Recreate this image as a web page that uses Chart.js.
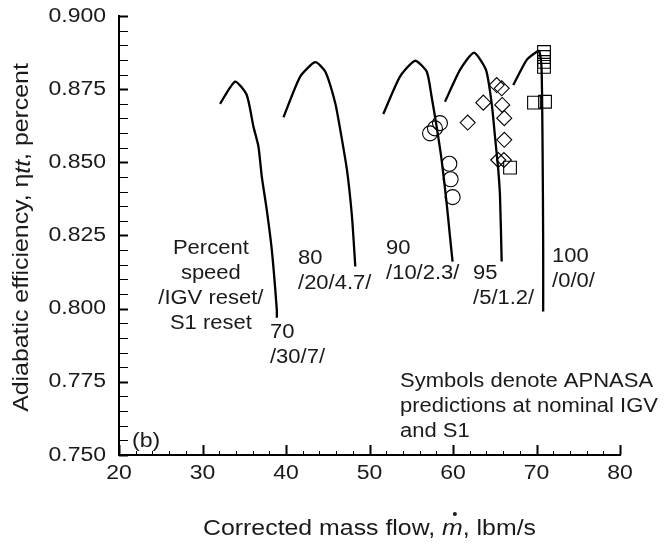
<!DOCTYPE html>
<html>
<head>
<meta charset="utf-8">
<script src="https://cdn.jsdelivr.net/npm/chart.js@4/dist/chart.umd.min.js"></script>
<style>
  html, body { margin: 0; padding: 0; background: #ffffff; }
  #wrap { width: 669px; height: 545px; }
</style>
</head>
<body>
<div id="wrap"><canvas id="c" width="669" height="545"></canvas></div>
<script>
// Speed lines: corrected mass flow (lbm/s) vs adiabatic efficiency
const flow70  = [32.1, 33.9, 35.3, 36.1, 36.7, 37.1, 37.7, 38.3, 38.9, 38.9];
const eff70   = [0.870, 0.8776, 0.873, 0.8622, 0.8554, 0.8451, 0.8337, 0.8201, 0.7996, 0.7969];
const flow80  = [39.7, 41.7, 43.5, 44.7, 45.9, 46.5, 47.3, 47.9, 48.3];
const eff80   = [0.8654, 0.8793, 0.8842, 0.881, 0.8702, 0.8611, 0.8474, 0.8315, 0.8144];
const flow90  = [51.65, 53.65, 55.45, 56.85, 57.44, 58.04, 58.64, 59.24, 59.64, 59.95];
const eff90   = [0.8665, 0.8793, 0.8847, 0.881, 0.8724, 0.8622, 0.8508, 0.836, 0.8246, 0.8161];
const flow95  = [59.04, 60.84, 62.51, 63.95, 64.63, 65.03, 65.42, 65.63, 65.83];
const eff95   = [0.8707, 0.8816, 0.8875, 0.8816, 0.8702, 0.8588, 0.8474, 0.8383, 0.8161];
const flow100 = [67.22, 68.83, 70.03, 70.34, 70.61, 70.73, 70.8, 70.8];
const eff100  = [0.8764, 0.885, 0.8878, 0.888, 0.8816, 0.8542, 0.8218, 0.799];

// APNASA predictions at nominal IGV and S1
const apnasa90Flow  = [58.44, 57.84, 57.25, 59.56, 59.72, 59.96];
const apnasa90Eff   = [0.8634, 0.8616, 0.8599, 0.8495, 0.8442, 0.8381];
const apnasa95Flow  = [65.23, 65.83, 63.63, 65.90, 66.14, 61.76, 66.14, 65.42, 66.10];
const apnasa95Eff   = [0.8764, 0.8753, 0.8704, 0.8696, 0.8651, 0.8636, 0.8577, 0.8508, 0.8508];
const apnasa100Flow = [70.9, 70.9, 70.9, 70.9, 69.7, 71.02, 66.83];
const apnasa100Eff  = [0.8877, 0.8860, 0.8843, 0.8826, 0.8704, 0.8707, 0.8482];

// Axis ranges and tick labels
const flowMin = 20, flowMax = 80, flowStep = 10, flowMinor = 2;
const effMin = 0.750, effMax = 0.900, effStep = 0.025, effMinor = 0.005;
const flowTickLabels = ['20', '30', '40', '50', '60', '70', '80'];
const effTickLabels = ['0.750', '0.775', '0.800', '0.825', '0.850', '0.875', '0.900'];

// Speed-line labels: [text lines, flow, efficiency of first line]
const speedLabels = [
  [['70', '/30/7/'], 38.08, 0.7917],
  [['80', '/20/4.7/'], 41.44, 0.8170],
  [['90', '/10/2.3/'], 51.98, 0.8204],
  [['95', '/5/1.2/'], 62.40, 0.8119],
  [['100', '/0/0/'], 71.86, 0.8177]
];
const legendNote = ['Symbols denote APNASA', 'predictions at nominal IGV', 'and S1'];
const keyNote = ['Percent', 'speed', '/IGV reset/', 'S1 reset'];

const FONT = '"Liberation Sans", Arial, Helvetica, sans-serif';
const INK = '#1a1a1a';

function pts(xs, ys) { return xs.map((x, i) => ({ x: x, y: ys[i] })); }

function lineSet(xs, ys) {
  return {
    data: pts(xs, ys), showLine: true, borderColor: '#000', borderWidth: 2.3,
    pointRadius: 0, tension: 0.2, fill: false
  };
}
function symbolSet(xs, ys, style, r) {
  return {
    data: pts(xs, ys), showLine: false, pointStyle: style, pointRadius: r,
    pointBorderColor: '#000', pointBackgroundColor: 'rgba(0,0,0,0)', pointBorderWidth: 1.1
  };
}

// text drawn with a slight horizontal stretch (wide Helvetica look)
function wideText(ctx, text, x, y, align, font, sx) {
  ctx.save();
  ctx.font = font;
  ctx.translate(x, y);
  ctx.scale(sx, 1);
  ctx.textAlign = align;
  ctx.fillText(text, 0, 0);
  ctx.restore();
}
function wideWidth(ctx, text, font, sx) {
  ctx.save();
  ctx.font = font;
  const w = ctx.measureText(text).width * sx;
  ctx.restore();
  return w;
}

const decorations = {
  id: 'decorations',
  afterDraw(chart) {
    const { ctx, chartArea: a, scales: { x, y } } = chart;
    ctx.save();
    ctx.strokeStyle = '#000';
    // inward ticks on the bottom axis
    for (let v = flowMin; v <= flowMax + 1e-9; v += flowMinor) {
      const px = Math.round(x.getPixelForValue(v)) + 0.5;
      const major = Math.abs(v / flowStep - Math.round(v / flowStep)) < 1e-6;
      ctx.lineWidth = major ? 2 : 1;
      ctx.beginPath();
      ctx.moveTo(px, a.bottom);
      ctx.lineTo(px, a.bottom - (major ? 10 : 4));
      ctx.stroke();
    }
    // inward ticks on the left axis
    for (let v = effMin; v <= effMax + 1e-9; v += effMinor) {
      const py = Math.round(y.getPixelForValue(v)) + 0.5;
      const major = Math.abs(v / effStep - Math.round(v / effStep)) < 1e-6;
      ctx.lineWidth = major ? 2 : 1;
      ctx.beginPath();
      ctx.moveTo(a.left, py);
      ctx.lineTo(a.left + 9, py);
      ctx.stroke();
    }

    ctx.fillStyle = INK;
    ctx.textBaseline = 'middle';
    const tickFont = '20px ' + FONT, TS = 1.15;
    // tick labels
    flowTickLabels.forEach(t => {
      wideText(ctx, t, x.getPixelForValue(Number(t)), a.bottom + 18, 'center', tickFont, TS);
    });
    effTickLabels.forEach(t => {
      wideText(ctx, t, a.left - 13, y.getPixelForValue(Number(t)), 'right', tickFont, TS);
    });

    const noteFont = '20px ' + FONT, NS = 1.1, lh = 25;
    // speed labels
    speedLabels.forEach(([lines, fx, fy]) => {
      const px = x.getPixelForValue(fx), py = y.getPixelForValue(fy);
      lines.forEach((t, i) => wideText(ctx, t, px, py + i * lh, 'left', noteFont, NS));
    });
    // key to the labels
    {
      const px = x.getPixelForValue(31.0), py = y.getPixelForValue(0.8204);
      keyNote.forEach((t, i) => wideText(ctx, t, px, py + i * lh, 'center', noteFont, NS));
    }
    // note about the symbols
    {
      const px = x.getPixelForValue(53.65), py = y.getPixelForValue(0.7751);
      legendNote.forEach((t, i) => wideText(ctx, t, px, py + i * lh, 'left', noteFont, NS));
    }
    // panel tag
    wideText(ctx, '(b)', x.getPixelForValue(21.55), y.getPixelForValue(0.7548), 'left', '21px ' + FONT, 1.1);

    // axis titles
    const TF = '22px ' + FONT, TI = 'italic 22px ' + FONT, TSX = 1.13;

    // x-axis title with italic m-dot
    {
      const cx = (a.left + a.right) / 2, ty = 529;
      const s1 = 'Corrected mass flow, ', s3 = ', lbm/s';
      const w1 = wideWidth(ctx, s1, TF, TSX), w2 = wideWidth(ctx, 'm', TI, TSX), w3 = wideWidth(ctx, s3, TF, TSX);
      const sx = cx - (w1 + w2 + w3) / 2;
      wideText(ctx, s1, sx, ty, 'left', TF, TSX);
      wideText(ctx, 'm', sx + w1, ty, 'left', TI, TSX);
      ctx.beginPath();
      ctx.arc(sx + w1 + w2 * 0.62, ty - 15, 2, 0, Math.PI * 2);
      ctx.fill();
      wideText(ctx, s3, sx + w1 + w2, ty, 'left', TF, TSX);
    }

    // y-axis title with italic tt
    {
      ctx.save();
      ctx.translate(22, (a.top + a.bottom) / 2 + 2);
      ctx.rotate(-Math.PI / 2);
      const p1 = 'Adiabatic efficiency, \u03B7', p2 = 'tt', p3 = ', percent';
      const q1 = wideWidth(ctx, p1, TF, TSX), q2 = wideWidth(ctx, p2, TI, TSX), q3 = wideWidth(ctx, p3, TF, TSX);
      const ox = -(q1 + q2 + q3) / 2;
      wideText(ctx, p1, ox, 0, 'left', TF, TSX);
      wideText(ctx, p2, ox + q1, 2, 'left', TI, TSX);
      wideText(ctx, p3, ox + q1 + q2, 0, 'left', TF, TSX);
      ctx.restore();
    }

    ctx.restore();
  }
};

new Chart(document.getElementById('c'), {
  type: 'scatter',
  data: {
    datasets: [
      lineSet(flow70, eff70),
      lineSet(flow80, eff80),
      lineSet(flow90, eff90),
      lineSet(flow95, eff95),
      lineSet(flow100, eff100),
      symbolSet(apnasa90Flow, apnasa90Eff, 'circle', 7.5),
      symbolSet(apnasa95Flow, apnasa95Eff, 'rectRot', 7.5),
      symbolSet(apnasa100Flow, apnasa100Eff, 'rect', 9)
    ]
  },
  options: {
    responsive: false,
    animation: false,
    devicePixelRatio: 1,
    layout: { padding: { top: 16, right: 49, left: 0, bottom: 0 } },
    plugins: { legend: { display: false }, tooltip: { enabled: false } },
    scales: {
      x: {
        type: 'linear', min: flowMin, max: flowMax,
        grid: { display: false, drawTicks: false },
        border: { display: true, color: '#000', width: 2 },
        ticks: { display: false, stepSize: flowStep },
        afterFit(s) { s.height = 90; }
      },
      y: {
        type: 'linear', min: effMin, max: effMax,
        grid: { display: false, drawTicks: false },
        border: { display: true, color: '#000', width: 2 },
        ticks: { display: false, stepSize: effStep },
        afterFit(s) { s.width = 119; }
      }
    }
  },
  plugins: [decorations]
});
</script>
</body>
</html>
